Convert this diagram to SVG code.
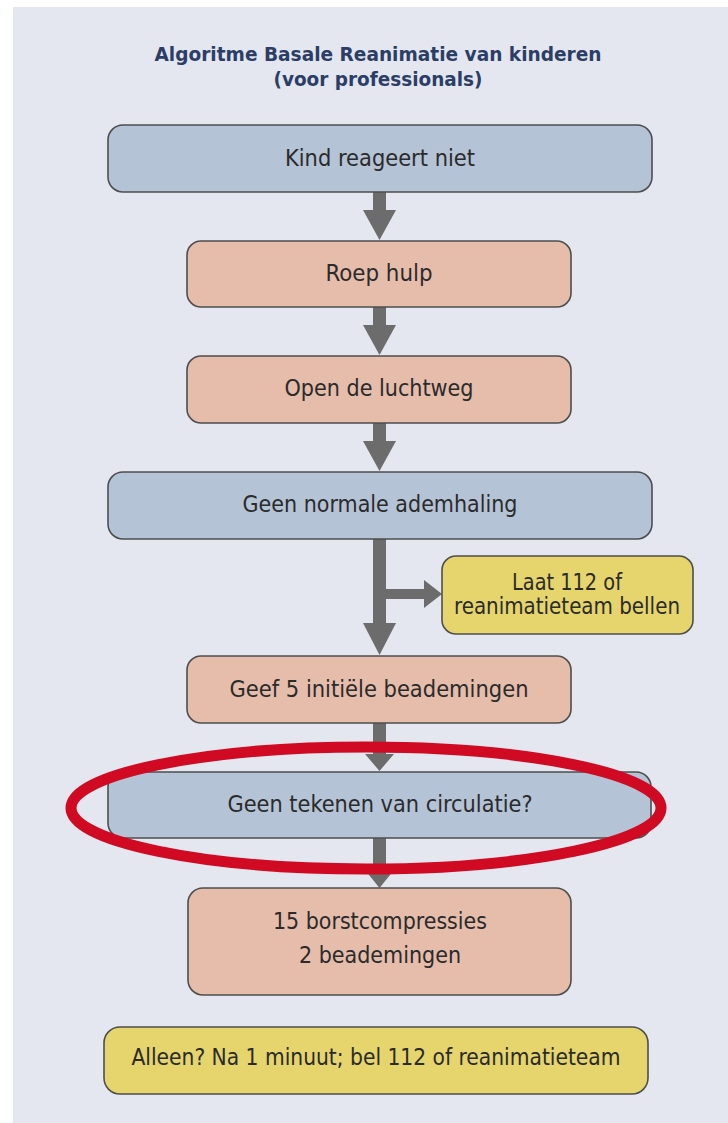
<svg xmlns="http://www.w3.org/2000/svg" width="728" height="1123" viewBox="0 0 728 1123">
  <defs>
    <style>
      .bg { fill: #e4e7ef; }
      .box { stroke: #4e4e4e; stroke-width: 1.6; }
      .blue { fill: #b5c3d6; }
      .salmon { fill: #e6bcab; }
      .yellow { fill: #e5d56c; }
      .lbl { font-family: "DejaVu Sans Condensed", "DejaVu Sans", sans-serif; font-size: 23px; fill: #2b2b2b; text-anchor: middle; }
      .title { font-family: "DejaVu Sans Condensed", "DejaVu Sans", sans-serif; font-size: 19px; font-weight: bold; fill: #2c3e66; text-anchor: middle; }
      .shaft { fill: #6c6c6c; }
      .mark { fill: none; stroke: #cf0a22; stroke-width: 11; }
    </style>
  </defs>

  <rect x="0" y="0" width="728" height="1123" fill="#ffffff"/>
  <rect class="bg" x="13" y="7" width="715" height="1116"/>

  <g id="title">
    <text class="title" x="378" y="61" textLength="447" lengthAdjust="spacingAndGlyphs">Algoritme Basale Reanimatie van kinderen</text>
    <text class="title" x="378" y="86" textLength="209" lengthAdjust="spacingAndGlyphs">(voor professionals)</text>
  </g>

  <!-- connectors: thick grey shafts with triangular heads -->
  <g id="connectors" class="shaft">
    <rect x="373" y="192" width="13" height="20"/>
    <polygon points="363,210 396,210 379.5,240"/>
    <rect x="373" y="307" width="13" height="20"/>
    <polygon points="363,325 396,325 379.5,355"/>
    <rect x="373" y="423" width="13" height="20"/>
    <polygon points="363,441 396,441 379.5,471"/>
    <rect x="373" y="539" width="13" height="86"/>
    <polygon points="363,623 396,623 379.5,655"/>
    <rect x="386" y="589" width="40" height="10"/>
    <polygon points="424,580 424,608 442,594"/>
    <rect x="373" y="723" width="13" height="34"/>
    <polygon points="365,754 394,754 379.5,771"/>
    <rect x="373" y="838" width="13" height="34"/>
    <polygon points="365,870 394,870 379.5,888"/>
  </g>

  <g id="n-kind">
    <rect class="box blue" x="108" y="125" width="544" height="67" rx="15"/>
    <text class="lbl" x="380" y="166" textLength="190" lengthAdjust="spacingAndGlyphs">Kind reageert niet</text>
  </g>
  <g id="n-hulp">
    <rect class="box salmon" x="187" y="241" width="384" height="66" rx="14"/>
    <text class="lbl" x="379" y="281" textLength="107" lengthAdjust="spacingAndGlyphs">Roep hulp</text>
  </g>
  <g id="n-luchtweg">
    <rect class="box salmon" x="187" y="356" width="384" height="67" rx="14"/>
    <text class="lbl" x="379" y="396" textLength="189" lengthAdjust="spacingAndGlyphs">Open de luchtweg</text>
  </g>
  <g id="n-ademhaling">
    <rect class="box blue" x="108" y="472" width="544" height="67" rx="15"/>
    <text class="lbl" x="380" y="512" textLength="275" lengthAdjust="spacingAndGlyphs">Geen normale ademhaling</text>
  </g>
  <g id="n-bellen">
    <rect class="box yellow" x="442" y="556" width="251" height="78" rx="14"/>
    <text class="lbl" x="567" y="590" textLength="110" lengthAdjust="spacingAndGlyphs">Laat 112 of</text>
    <text class="lbl" x="567" y="614" textLength="226" lengthAdjust="spacingAndGlyphs">reanimatieteam bellen</text>
  </g>
  <g id="n-beademingen">
    <rect class="box salmon" x="187" y="656" width="384" height="67" rx="14"/>
    <text class="lbl" x="379" y="697" textLength="299" lengthAdjust="spacingAndGlyphs">Geef 5 initiële beademingen</text>
  </g>
  <g id="n-circulatie">
    <rect class="box blue" x="108" y="772" width="543" height="66" rx="15"/>
    <text class="lbl" x="380" y="812" textLength="305" lengthAdjust="spacingAndGlyphs">Geen tekenen van circulatie?</text>
  </g>
  <g id="n-compressies">
    <rect class="box salmon" x="188" y="888" width="383" height="107" rx="15"/>
    <text class="lbl" x="380" y="929" textLength="214" lengthAdjust="spacingAndGlyphs">15 borstcompressies</text>
    <text class="lbl" x="380" y="963" textLength="162" lengthAdjust="spacingAndGlyphs">2 beademingen</text>
  </g>
  <g id="n-alleen">
    <rect class="box yellow" x="104" y="1027" width="544" height="67" rx="16"/>
    <text class="lbl" x="376" y="1065" textLength="489" lengthAdjust="spacingAndGlyphs">Alleen? Na 1 minuut; bel 112 of reanimatieteam</text>
  </g>

  <g id="highlight">
    <ellipse class="mark" cx="366" cy="808" rx="295" ry="61"/>
  </g>
</svg>
